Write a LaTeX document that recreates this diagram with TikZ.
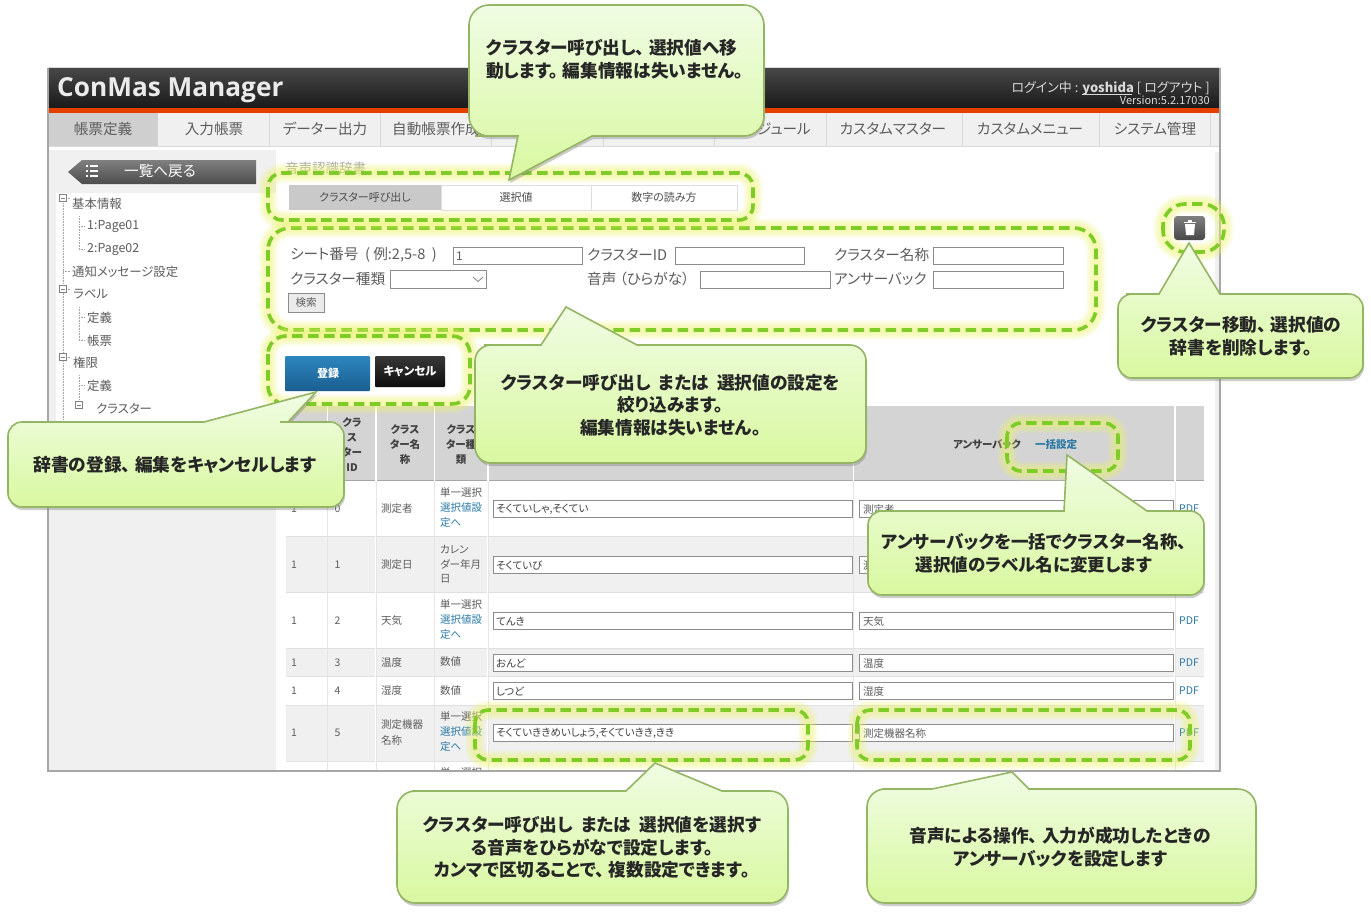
\documentclass[tikz,border=0pt]{standalone}
\usepackage{fontspec}
\setmainfont{Noto Sans CJK JP}[RawFeature=+palt]
\newfontfamily\logofont{Open Sans}
\usetikzlibrary{shadows}

\definecolor{uigray}{HTML}{5C5C5C}
\definecolor{linkblue}{HTML}{2A78A5}
\definecolor{markgreen}{HTML}{7FCB28}
\definecolor{glowyellow}{HTML}{EDF66A}
\definecolor{balloonedge}{HTML}{93B564}
\definecolor{balloontop}{HTML}{F0FCE4}
\definecolor{balloonbot}{HTML}{D9F8A0}
\definecolor{savetop}{HTML}{2C86BE}
\definecolor{savebot}{HTML}{1B5E90}

\tikzset{
  uitext/.style={inner sep=0pt,anchor=west,text=uigray,font=\fontsize{12.4}{14}\selectfont},
  smalltext/.style={uitext,font=\fontsize{10.5}{12}\selectfont},
  formtext/.style={uitext,font=\fontsize{14.6}{16}\selectfont},
  headtext/.style={inner sep=0pt,align=center,text=black!75,font=\fontsize{10.5}{15.2}\selectfont\bfseries},
  tabtext/.style={inner sep=0pt,text=black!70,font=\fontsize{11}{12}\selectfont},
  inputbox/.style={draw=black!45,fill=white,line width=.9pt},
  tabline/.style={draw=black!13,line width=1pt},
  treeline/.style={draw=black!35,densely dotted,line width=.6pt},
  balloon/.style={draw=balloonedge,line width=1.6pt,top color=balloontop,bottom color=balloonbot,
    drop shadow={shadow xshift=1pt,shadow yshift=-3pt,opacity=.4}},
  balloontext/.style={inner sep=0pt,align=center,text=black!85,font=\fontsize{17.7}{22.6}\selectfont\bfseries},
  markdash/.style={draw=markgreen,line width=3.6pt,dash pattern=on 10.5pt off 5.5pt},
}

% glow and dashes of one marked area: corner, corner, radius
\newcommand{\markarea}[3]{
  \foreach \w in {19,15,11,7} {
    \draw[glowyellow,opacity=.16,line width=\w pt,rounded corners=#3pt] #1 rectangle #2;
  }
  \draw[markdash,rounded corners=#3pt] #1 rectangle #2;
}
% wider gap after a comma or stop in mid line
\newcommand{\gapmark}{\hspace{.25em}}

\begin{document}
\begin{tikzpicture}[x=1pt,y=-1pt]
  \useasboundingbox[fill=white] (0,0) rectangle (1371,914);

  %% window
  \fill[white] (48,67) rectangle (1220,771);
  \shade[top color=black!72,bottom color=black!90] (48,68) rectangle (1220,108);
  \fill[black!15] (48,66.5) rectangle (1220,68);
  \fill[orange!55!red!90!black] (48,108) rectangle (1220,112.5);
  \node[inner sep=0pt,anchor=west,text=black!8,font=\fontsize{26.2}{30}\selectfont\logofont\bfseries] (logo) at (57,90.5) {ConMas Manager};
  \node[inner sep=0pt,anchor=east,text=black!15,font=\fontsize{13}{14}\selectfont] (login) at (1210,88)
    {ログイン中 : \textbf{yoshida} [ ログアウト ]};
  \node[inner sep=0pt,anchor=east,text=black!15,font=\fontsize{11}{12}\selectfont] (version) at (1210,100) {Version:5.2.17030};
  \draw[black!15,line width=.8pt] (login.south west) ++(71,-1) -- ++(50,0);

  %% menu
  \fill[black!6] (49,113) rectangle (1219,146);
  \fill[black!19] (49,113) rectangle (158,146);
  \draw[black!15,line width=1pt] (49,146.5) -- (1219,146.5);
  \foreach \x in {269,380,491,603,714,826,962,1099,1210} {
    \draw[black!15,line width=1pt] (\x,113) -- (\x,146);
  }
  \foreach \c/\t [count=\i] in {103/帳票定義,214/入力帳票,325/データー出力,436/自動帳票作成,784/ジュール,893/カスタムマスター,1030/カスタムメニュー,1155/システム管理} {
    \node[uitext,anchor=center,font=\fontsize{14.6}{16}\selectfont] (menu\i) at (\c,129) {\t};
  }

  %% side bar
  \fill[black!6] (49,150) rectangle (276,770);
  \fill[white] (56,193) rectangle (276,440);
  \fill[black!6] (1215,152) rectangle (1219,770);
  \shade[top color=black!50,bottom color=black!70] (68,172) -- (82,160) -- (256,160) -- (256,184) -- (82,184) -- cycle;
  \foreach \y in {166,171,176} {
    \fill[white] (86,\y-1) rectangle (88,\y+1);
    \fill[white] (90,\y-.6) rectangle (98,\y+.6);
  }
  \node[formtext,text=white] (back) at (124,171) {一覧へ戻る};

  \foreach \x/\y/\t [count=\i] in {72/203.5/基本情報,87/226.5/1:Page01,87/249.5/2:Page02,72/271.5/通知メッセージ設定,73/294.5/ラベル,87/317.5/定義,87/340.5/帳票,73/362.5/権限,87/385.5/定義 / 帳票,96/408.5/クラスター} {
    \node[uitext] (tree\i) at (\x,\y) {\t};
  }
  \draw[treeline] (63,203) -- (63,430);
  \foreach \y/\x in {198/70,271/70,289/70,357/70} { \draw[treeline] (63,\y) -- (\x,\y); }
  \foreach \a/\b in {216/249,307/340,375/400} { \draw[treeline] (79,\a) -- (79,\b); }
  \foreach \y in {226,249,317,340,385} { \draw[treeline] (79,\y) -- (85,\y); }
  \foreach \x/\y in {63/198,63/289,63/357,79/405} {
    \draw[black!50,fill=white,line width=.6pt] (\x-3.5,\y-3.5) rectangle (\x+3.5,\y+3.5);
    \draw[black!50,line width=.6pt] (\x-2,\y) -- (\x+2,\y);
  }

  %% tabs
  \node[uitext,text=black!35,font=\fontsize{13.5}{15}\selectfont] (pagetitle) at (285,168) {音声認識辞書};
  \fill[black!21] (289,185) rectangle (441,210);
  \draw[tabline] (441,185) rectangle (591,210);
  \draw[tabline] (591,185) rectangle (737,210);
  \node[tabtext] (tabcall) at (365,197.5) {クラスター呼び出し};
  \node[tabtext] (tabvalue) at (516,197.5) {選択値};
  \node[tabtext] (tabdigit) at (664,197.5) {数字の読み方};

  %% search form
  \node[formtext] (fsheet) at (290,255) {シート番号\ \ (\ 例:2,5-8\ \ )};
  \node[formtext] (fid) at (587,255) {クラスターID};
  \node[formtext] (fname) at (834,255) {クラスター名称};
  \node[formtext] (fkind) at (290,279) {クラスター種類};
  \node[formtext] (fvoice) at (587,279) {音声\ （ひらがな）};
  \node[formtext] (fback) at (834,279) {アンサーバック};
  \draw[inputbox] (453,247) rectangle (582,264.5);
  \draw[inputbox] (675,247) rectangle (804,264.5);
  \draw[inputbox] (933,247) rectangle (1063,264.5);
  \draw[inputbox] (390,270) rectangle (486,288);
  \draw[inputbox] (700,271) rectangle (830,288.5);
  \draw[inputbox] (933,271) rectangle (1063,288.5);
  \draw[black!50,line width=.8pt] (473,277) -- (478,281.5) -- (483,277);
  \node[smalltext,font=\fontsize{12}{12}\selectfont] (fone) at (456,256) {1};
  \draw[black!45,fill=black!8,line width=.9pt] (288,293) rectangle (324,312);
  \node[smalltext,anchor=center] (fsearch) at (306,302.5) {検索};

  %% save and cancel
  \shade[top color=savetop,bottom color=savebot,rounded corners=1pt] (285,356) rectangle (370,391);
  \shade[top color=black!78,bottom color=black!95,rounded corners=1pt] (375,356) rectangle (445,387);
  \node[smalltext,anchor=center,text=white,font=\fontsize{11}{12}\selectfont\bfseries] (save) at (328,373) {登録};
  \node[smalltext,anchor=center,text=white,font=\fontsize{11.5}{12}\selectfont\bfseries] (cancel) at (410,371) {キャンセル};

  %% trash button
  \shade[top color=black!50,bottom color=black!72,rounded corners=3pt] (1174,216) rectangle (1205,240);
  \fill[white] (1184,221.5) rectangle (1196,223);
  \fill[white] (1188,219.5) rectangle (1192,221.5);
  \fill[white] (1185,224) -- (1195,224) -- (1194,235) -- (1186,235) -- cycle;

  %% table
  \fill[black!17] (286,406) rectangle (1204,480);
  \draw[black!35,line width=1pt] (286,480.5) -- (1204,480.5);
  \foreach \a/\b/\s in {482/536/0,537/592/6,593/648/0,649/676/6,677/705/0,706/761/6,762/771/0} {
    \fill[black!\s] (286,\a) rectangle (1204,\b);
    \draw[black!12,line width=.8pt] (286,\b) -- (1204,\b);
  }
  \foreach \x in {327.5,376,434.5,488,853.5,1175} {
    \draw[white,line width=1.5pt] (\x,406) -- (\x,771);
  }
  \foreach \x in {327.5,376,434.5,488,853.5,1175} {
    \draw[black!10,line width=.5pt] (\x,482) -- (\x,771);
  }
  \node[headtext] (hid) at (352,444.5) {クラ\\ス\\ター\\ID};
  \node[headtext] (hname) at (405,444.5) {クラス\\ター名\\称};
  \node[headtext] (hkind) at (461,444.5) {クラス\\ター種\\類};
  \node[headtext,anchor=west] (hback) at (953,444.5) {アンサーバック};
  \node[headtext,anchor=west,text=linkblue] (hbulk) at (1035,444.5) {一括設定};

  \foreach \i/\y/\t/\a in {0/509/測定者/{そくていしゃ,そくてい},1/565/測定日/そくていび,2/621/天気/てんき,3/663/温度/おんど,4/691/湿度/しつど,5/733/{}/{そくていききめいしょう,そくていきき,きき}} {
    \draw[inputbox] (493,\y-9) rectangle (852,\y+8.5);
    \draw[inputbox] (859,\y-9) rectangle (1173,\y+8.5);
    \node[smalltext] (rpage\i) at (291,\y) {1};
    \node[smalltext] (rid\i) at (334.5,\y) {\i};
    \node[smalltext] (rname\i) at (381,\y) {\t};
    \node[smalltext,text=black!75] (rvoice\i) at (496,\y+.5) {\a};
    \node[smalltext] (rback\i) at (863,\y+.5) {\t};
    \node[smalltext,text=linkblue] (rpdf\i) at (1179,\y) {PDF};
  }
  \node[smalltext] (rnamea) at (381,725) {測定機器};
  \node[smalltext] (rnameb) at (381,740) {名称};
  \node[smalltext] (rbacklong) at (863,733.5) {測定機器名称};

  \foreach \y in {493,605,717} {
    \node[smalltext] (rkind\y) at (440,\y) {単一選択};
    \node[smalltext,text=linkblue] (rlink\y) at (440,\y+15) {選択値設};
    \node[smalltext,text=linkblue] (rfor\y) at (440,\y+30) {定へ};
  }
  \node[smalltext] (rcala) at (440,549) {カレン};
  \node[smalltext] (rcalb) at (440,564) {ダー年月};
  \node[smalltext] (rcalc) at (440,579) {日};
  \node[smalltext] (rnuma) at (440,662) {数値};
  \node[smalltext] (rnumb) at (440,691) {数値};
  \begin{scope}
    \clip (436,762) rectangle (486,770);
    \node[smalltext] (rkindlast) at (440,773) {単一選択};
  \end{scope}

  %% window frame
  \draw[black!35,line width=1.6pt] (48,68) -- (48,771) -- (1220,771) -- (1220,68);

  %% marked areas
  \markarea{(268,228)}{(1096,330)}{22}
  \markarea{(268,336)}{(470,404)}{18}
  \markarea{(268,173)}{(753,220)}{14}
  \markarea{(1163,204)}{(1224,252)}{22}
  \markarea{(1007,423)}{(1118,471)}{14}
  \markarea{(475,710)}{(808,760)}{13}
  \markarea{(857,710)}{(1190,760)}{13}

  %% balloons
  \draw[balloon] (509,180) -- (592,136) -- (600,136) [rounded corners=20pt] -- (764,136) -- (764,5) -- (469,5) -- (469,136) -- (495,136) [sharp corners] -- (518,136) -- cycle;
  \node[balloontext,align=left,anchor=west] (noteswitch) at (486,59.5) {クラスター呼び出し、\gapmark 選択値へ移\\動します。\gapmark 編集情報は失いません。};

  \draw[balloon] (1189,243) -- (1220,294) -- (1230,294) [rounded corners=14pt] -- (1363,294) -- (1363,378) -- (1118,378) -- (1118,294) -- (1140,294) [sharp corners] -- (1159,294) -- cycle;
  \node[balloontext] (notetrash) at (1241,336) {クラスター移動、\gapmark 選択値の\\辞書を削除します。};

  \draw[balloon] (566,307) -- (637,345) -- (650,345) [rounded corners=16pt] -- (866,345) -- (866,463) -- (475,463) -- (475,345) -- (500,345) [sharp corners] -- (541,345) -- cycle;
  \node[balloontext] (notefilter) at (670.5,405) {クラスター呼び出し\ \ または\ \ 選択値の設定を\\絞り込みます。\\編集情報は失いません。};

  \draw[balloon] (316,392) -- (288,422) -- (280,422) [rounded corners=14pt] -- (344,422) -- (344,507) -- (8,507) -- (8,422) -- (40,422) [sharp corners] -- (204,422) -- cycle;
  \node[balloontext] (notesave) at (175,465) {辞書の登録、\gapmark 編集をキャンセルします};

  \draw[balloon] (1067,455) -- (1147,511) -- (1155,511) [rounded corners=14pt] -- (1204,511) -- (1204,595) -- (868,595) -- (868,511) -- (890,511) [sharp corners] -- (1064,511) -- cycle;
  \node[balloontext,font=\fontsize{17.5}{22.6}\selectfont\bfseries] (notebulk) at (1034,553.5) {アンサーバックを一括でクラスター名称、\\選択値のラベル名に変更します};

  \draw[balloon] (655,763) -- (722,791) -- (730,791) [rounded corners=18pt] -- (788,791) -- (788,903) -- (397,903) -- (397,791) -- (430,791) [sharp corners] -- (626,791) -- cycle;
  \node[balloontext] (notevoice) at (592,847.5) {クラスター呼び出し\ \ または\ \ 選択値を選択す\\る音声をひらがなで設定します。\\カンマで区切ることで、\gapmark 複数設定できます。};

  \draw[balloon] (1012,772) -- (1029,789) -- (1040,789) [rounded corners=18pt] -- (1256,789) -- (1256,903) -- (867,903) -- (867,789) -- (900,789) [sharp corners] -- (932,789) -- cycle;
  \node[balloontext] (noteanswer) at (1060,847) {音声による操作、\gapmark 入力が成功したときの\\アンサーバックを設定します};
\end{tikzpicture}
\end{document}
